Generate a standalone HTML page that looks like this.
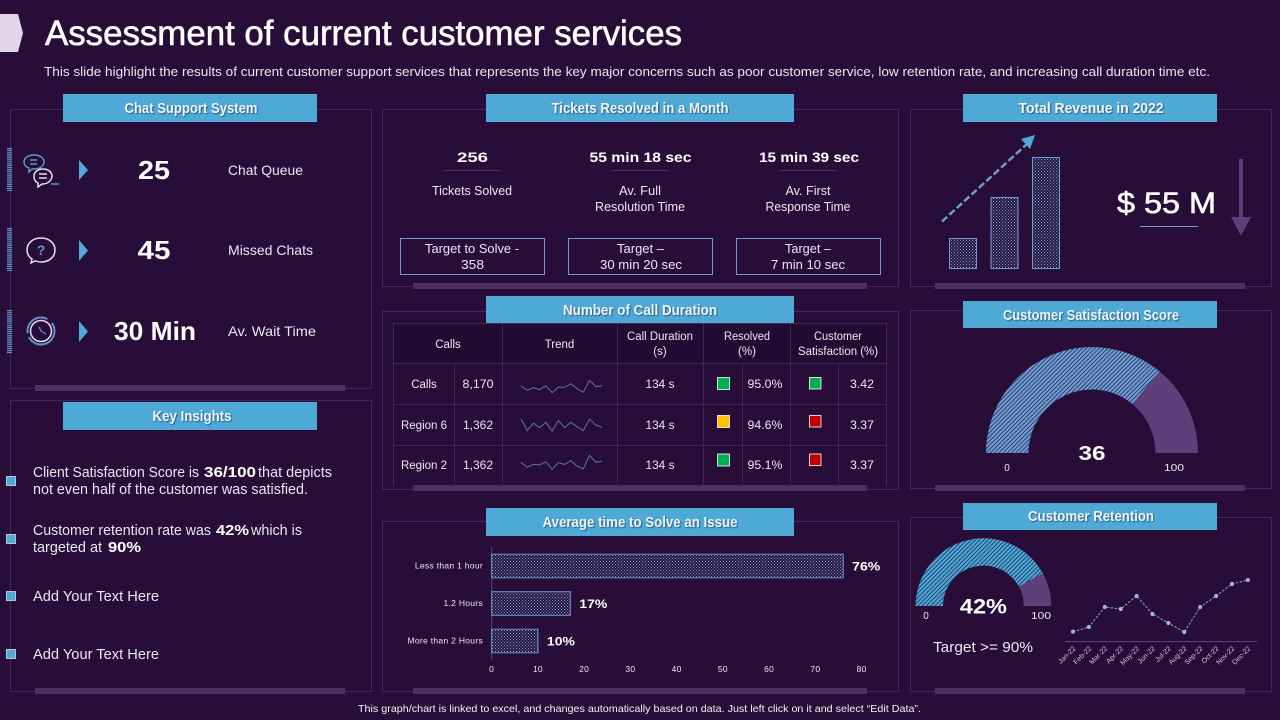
<!DOCTYPE html>
<html lang="en">
<head>
<meta charset="utf-8">
<title>Assessment of current customer services</title>
<style>
html,body{margin:0;padding:0;background:#270d38;width:1280px;height:720px;overflow:hidden}
svg{display:block;font-family:"Liberation Sans",sans-serif}
text{fill:#ece6f2}
.hd{font-weight:700;font-size:14.5px;fill:#eef6fb;text-anchor:middle;filter:drop-shadow(1px 1px .6px rgba(20,30,60,.55))}
.lb{font-size:14px}
.big{font-weight:700;fill:#fff;text-anchor:middle}
.t12{font-size:12.5px;text-anchor:middle}
.tb{font-size:11.5px;text-anchor:middle}
.ins{font-size:14.5px}
.insb{font-size:14.5px;font-weight:700;fill:#fff}
.panel{fill:none;stroke:#40295a;stroke-width:1}
.bar{fill:#4b3060}
.head{fill:#4fa9d6}
.grid{stroke:#3d2853;stroke-width:1}
</style>
</head>
<body>
<svg id="slide" width="1280" height="720" viewBox="0 0 1280 720" xmlns="http://www.w3.org/2000/svg">
<defs>
<pattern id="dots" width="3" height="3" patternUnits="userSpaceOnUse"><rect width="3" height="3" fill="#27103c"/><rect x="0" y="0" width="1" height="1" fill="#7fa6d6"/><rect x="1.5" y="1.5" width="1" height="1" fill="#7fa6d6"/></pattern>
<pattern id="hatchA" width="3" height="3" patternUnits="userSpaceOnUse" patternTransform="rotate(45)"><rect width="3" height="3" fill="#6d9fd2"/><rect width="1" height="3" fill="#34386a"/></pattern>
<pattern id="hatchB" width="3" height="3" patternUnits="userSpaceOnUse" patternTransform="rotate(45)"><rect width="3" height="3" fill="#4fa9d6"/><rect width="1" height="3" fill="#23426f"/></pattern>
</defs>
<rect width="1280" height="720" fill="#270d38"/>

<polygon points="0,14 18,14 23,33 18,52 0,52" fill="#e0d5ea"/>
<text x="45" y="45" font-size="35" stroke="#fff" stroke-width=".6" textLength="637" lengthAdjust="spacingAndGlyphs" style="fill:#fff">Assessment of current customer services</text>
<text x="44" y="76" font-size="13" textLength="1166" lengthAdjust="spacingAndGlyphs">This slide highlight the results of current customer support services that represents the key major concerns such as poor customer service, low retention rate, and increasing call duration time etc.</text>

<!-- panels -->
<g>
<rect class="panel" x="10.5" y="109.5" width="361" height="279"/>
<rect class="panel" x="10.5" y="400.5" width="361" height="291"/>
<rect class="panel" x="382.5" y="109.5" width="516" height="177"/>
<rect class="panel" x="382.5" y="311.5" width="516" height="178"/>
<rect class="panel" x="382.5" y="521.5" width="516" height="170"/>
<rect class="panel" x="910.5" y="109.5" width="361" height="177"/>
<rect class="panel" x="910.5" y="310.5" width="361" height="178"/>
<rect class="panel" x="910.5" y="517.5" width="361" height="174"/>
<rect class="bar" x="35" y="385" width="310" height="6"/>
<rect class="bar" x="35" y="688" width="310" height="6"/>
<rect class="bar" x="413" y="283" width="454" height="6"/>
<rect class="bar" x="413" y="485" width="454" height="6"/>
<rect class="bar" x="413" y="688" width="454" height="6"/>
<rect class="bar" x="935" y="283" width="310" height="6"/>
<rect class="bar" x="935" y="485" width="310" height="6"/>
<rect class="bar" x="935" y="688" width="310" height="6"/>
</g>

<!-- headers -->
<rect class="head" x="63" y="94" width="254" height="28"/>
<text class="hd" x="191" y="113" textLength="133" lengthAdjust="spacingAndGlyphs">Chat Support System</text>
<rect class="head" x="63" y="402" width="254" height="28"/>
<text class="hd" x="192" y="421" textLength="79" lengthAdjust="spacingAndGlyphs">Key Insights</text>
<rect class="head" x="486" y="94" width="308" height="28"/>
<text class="hd" x="640" y="113" textLength="177" lengthAdjust="spacingAndGlyphs">Tickets Resolved in a Month</text>
<rect class="head" x="486" y="296" width="308" height="27"/>
<text class="hd" x="640" y="315" textLength="154" lengthAdjust="spacingAndGlyphs">Number of Call Duration</text>
<rect class="head" x="486" y="508" width="308" height="28"/>
<text class="hd" x="640" y="527" textLength="195" lengthAdjust="spacingAndGlyphs">Average time to Solve an Issue</text>
<rect class="head" x="963" y="94" width="254" height="28"/>
<text class="hd" x="1091" y="113" textLength="145" lengthAdjust="spacingAndGlyphs">Total Revenue in 2022</text>
<rect class="head" x="963" y="301" width="254" height="27"/>
<text class="hd" x="1091" y="320" textLength="176" lengthAdjust="spacingAndGlyphs">Customer Satisfaction Score</text>
<rect class="head" x="963" y="503" width="254" height="27"/>
<text class="hd" x="1091" y="521" textLength="126" lengthAdjust="spacingAndGlyphs">Customer Retention</text>

<!-- chat support -->
<g>
<line x1="9.5" x2="9.5" y1="148" y2="191" stroke="#5f96cc" stroke-width="5" stroke-dasharray="1.2 .9"/>
<line x1="9.5" x2="9.5" y1="228" y2="271" stroke="#5f96cc" stroke-width="5" stroke-dasharray="1.2 .9"/>
<line x1="9.5" x2="9.5" y1="310" y2="353" stroke="#5f96cc" stroke-width="5" stroke-dasharray="1.2 .9"/>
<g fill="none" stroke-width="1.5">
<path d="M24 162c0-4 4-7 10-7s10 3 10 7-4 7-10 7l-2 0-3 3 0-4c-3-1-5-3-5-6z" stroke="#5f96cc"/>
<path d="M30 160h7M30 164h7" stroke="#5f96cc"/>
<path d="M34 176c0-4 4-7 9-7s9 3 9 7-4 8-9 8l-1 0-4 3 0-4c-3-1-4-4-4-7z" stroke="#e6dff0" fill="#270d38"/>
<path d="M39 174h8M39 178h8" stroke="#e6dff0"/>
<path d="M51 184h8" stroke="#5f96cc"/>
</g>
<g fill="none">
<path d="M27 250c0-7 6-12 14-12s14 5 14 12-6 12-14 12c-2 0-3 0-5-1l-1 0-4 2 1-4c-3-2-5-5-5-9z" stroke="#e6dff0" stroke-width="1.5"/>
<text x="41" y="255" font-size="14" font-weight="700" text-anchor="middle" style="fill:#5f96cc">?</text>
</g>
<g fill="none">
<circle cx="41" cy="331" r="13.5" stroke="#5f96cc" stroke-width="2" stroke-dasharray="36 4 30 6"/>
<circle cx="41" cy="331" r="10.5" stroke="#e6dff0" stroke-width="1.5"/>
<path d="M39 327l2 4 5 3" stroke="#5f96cc" stroke-width="1.2"/>
</g>
<polygon points="79,160 88,170 79,180" fill="#4fa9d6"/>
<polygon points="79,240 88,250.5 79,261" fill="#4fa9d6"/>
<polygon points="79,321 88,331.5 79,342" fill="#4fa9d6"/>
<text class="big" x="154" y="179" font-size="26" textLength="32" lengthAdjust="spacingAndGlyphs">25</text>
<text class="big" x="154" y="259" font-size="26" textLength="33" lengthAdjust="spacingAndGlyphs">45</text>
<text class="big" x="155" y="340" font-size="26" textLength="82" lengthAdjust="spacingAndGlyphs">30 Min</text>
<text class="lb" x="228" y="175" textLength="75" lengthAdjust="spacingAndGlyphs">Chat Queue</text>
<text class="lb" x="228" y="255" textLength="85" lengthAdjust="spacingAndGlyphs">Missed Chats</text>
<text class="lb" x="228" y="336" textLength="88" lengthAdjust="spacingAndGlyphs">Av. Wait Time</text>
</g>

<!-- insights -->
<g>
<rect x="6.5" y="476.5" width="9" height="9" fill="#4fa9d6" stroke="#cfe3f0" stroke-width=".8"/>
<rect x="6.5" y="534.5" width="9" height="9" fill="#4fa9d6" stroke="#cfe3f0" stroke-width=".8"/>
<rect x="6.5" y="591.5" width="9" height="9" fill="#4fa9d6" stroke="#cfe3f0" stroke-width=".8"/>
<rect x="6.5" y="649.5" width="9" height="9" fill="#4fa9d6" stroke="#cfe3f0" stroke-width=".8"/>
<text class="ins" x="33" y="477" textLength="166" lengthAdjust="spacingAndGlyphs">Client Satisfaction Score is</text>
<text class="insb" x="204" y="477" textLength="52" lengthAdjust="spacingAndGlyphs">36/100</text>
<text class="ins" x="258" y="477" textLength="74" lengthAdjust="spacingAndGlyphs">that depicts</text>
<text class="ins" x="33" y="494" textLength="275" lengthAdjust="spacingAndGlyphs">not even half of the customer was satisfied.</text>
<text class="ins" x="33" y="535" textLength="178" lengthAdjust="spacingAndGlyphs">Customer retention rate was</text>
<text class="insb" x="216" y="535" textLength="33" lengthAdjust="spacingAndGlyphs">42%</text>
<text class="ins" x="251" y="535" textLength="51" lengthAdjust="spacingAndGlyphs">which is</text>
<text class="ins" x="33" y="552" textLength="69" lengthAdjust="spacingAndGlyphs">targeted at</text>
<text class="insb" x="108" y="552" textLength="33" lengthAdjust="spacingAndGlyphs">90%</text>
<text class="ins" x="33" y="601" textLength="126" lengthAdjust="spacingAndGlyphs">Add Your Text Here</text>
<text class="ins" x="33" y="659" textLength="126" lengthAdjust="spacingAndGlyphs">Add Your Text Here</text>
</g>

<!-- tickets -->
<g>
<text class="big" x="472.5" y="162" font-size="14" textLength="31" lengthAdjust="spacingAndGlyphs">256</text>
<text class="big" x="640.5" y="162" font-size="14" textLength="102" lengthAdjust="spacingAndGlyphs">55 min 18 sec</text>
<text class="big" x="809" y="162" font-size="14" textLength="100" lengthAdjust="spacingAndGlyphs">15 min 39 sec</text>
<line x1="443" x2="501" y1="170.5" y2="170.5" stroke="#4b3060"/>
<line x1="611" x2="669" y1="170.5" y2="170.5" stroke="#4b3060"/>
<line x1="779" x2="837" y1="170.5" y2="170.5" stroke="#4b3060"/>
<text class="t12" x="472" y="195" textLength="80" lengthAdjust="spacingAndGlyphs">Tickets Solved</text>
<text class="t12" x="640" y="195" textLength="42" lengthAdjust="spacingAndGlyphs">Av. Full</text>
<text class="t12" x="640" y="211" textLength="90" lengthAdjust="spacingAndGlyphs">Resolution Time</text>
<text class="t12" x="808" y="195" textLength="45" lengthAdjust="spacingAndGlyphs">Av. First</text>
<text class="t12" x="808" y="211" textLength="85" lengthAdjust="spacingAndGlyphs">Response Time</text>
<rect x="400.5" y="238.5" width="144" height="36" fill="none" stroke="#6f9bd1"/>
<rect x="568.5" y="238.5" width="144" height="36" fill="none" stroke="#6f9bd1"/>
<rect x="736.5" y="238.5" width="144" height="36" fill="none" stroke="#6f9bd1"/>
<text class="t12" x="472" y="253" textLength="94" lengthAdjust="spacingAndGlyphs">Target to Solve -</text>
<text class="t12" x="472.5" y="269" textLength="23" lengthAdjust="spacingAndGlyphs">358</text>
<text class="t12" x="640.5" y="253" textLength="47" lengthAdjust="spacingAndGlyphs">Target –</text>
<text class="t12" x="641" y="269" textLength="82" lengthAdjust="spacingAndGlyphs">30 min 20 sec</text>
<text class="t12" x="808" y="253" textLength="46" lengthAdjust="spacingAndGlyphs">Target –</text>
<text class="t12" x="808" y="269" textLength="74" lengthAdjust="spacingAndGlyphs">7 min 10 sec</text>
</g>

<!-- table -->
<g>
<rect x="393" y="323" width="494" height="41" fill="#220b32"/>
<g class="grid">
<line x1="393" x2="887" y1="323.5" y2="323.5"/>
<line x1="393" x2="887" y1="363.5" y2="363.5"/>
<line x1="393" x2="887" y1="404.5" y2="404.5"/>
<line x1="393" x2="887" y1="445.5" y2="445.5"/>
<line x1="393.5" x2="393.5" y1="323" y2="486"/>
<line x1="454.5" x2="454.5" y1="364" y2="486"/>
<line x1="502.5" x2="502.5" y1="323" y2="486"/>
<line x1="617.5" x2="617.5" y1="323" y2="486"/>
<line x1="703.5" x2="703.5" y1="323" y2="486"/>
<line x1="742.5" x2="742.5" y1="364" y2="486"/>
<line x1="790.5" x2="790.5" y1="323" y2="486"/>
<line x1="838.5" x2="838.5" y1="364" y2="486"/>
<line x1="886.5" x2="886.5" y1="323" y2="486"/>
</g>
<text class="tb" x="448" y="348">Calls</text>
<text class="tb" x="559.5" y="348">Trend</text>
<text class="tb" x="660" y="340" textLength="66" lengthAdjust="spacingAndGlyphs">Call Duration</text>
<text class="tb" x="660" y="355">(s)</text>
<text class="tb" x="747" y="340" textLength="46" lengthAdjust="spacingAndGlyphs">Resolved</text>
<text class="tb" x="747" y="355">(%)</text>
<text class="tb" x="838" y="340" textLength="48" lengthAdjust="spacingAndGlyphs">Customer</text>
<text class="tb" x="838" y="355" textLength="80" lengthAdjust="spacingAndGlyphs">Satisfaction (%)</text>

<text class="tb" x="424" y="388">Calls</text>
<text class="tb" x="478" y="388" textLength="31" lengthAdjust="spacingAndGlyphs">8,170</text>
<text class="tb" x="660" y="388" textLength="29" lengthAdjust="spacingAndGlyphs">134 s</text>
<rect x="717.5" y="377.5" width="12" height="12" fill="#00b050" stroke="#fff" stroke-width=".8"/>
<text class="tb" x="765" y="388" textLength="35" lengthAdjust="spacingAndGlyphs">95.0%</text>
<rect x="809.5" y="377.5" width="11.5" height="11.5" fill="#00b050" stroke="#fff" stroke-width=".8"/>
<text class="tb" x="862" y="388" textLength="24" lengthAdjust="spacingAndGlyphs">3.42</text>

<text class="tb" x="424" y="429" textLength="46" lengthAdjust="spacingAndGlyphs">Region 6</text>
<text class="tb" x="478" y="429" textLength="30" lengthAdjust="spacingAndGlyphs">1,362</text>
<text class="tb" x="660" y="429" textLength="29" lengthAdjust="spacingAndGlyphs">134 s</text>
<rect x="717.5" y="415.5" width="12" height="12" fill="#ffc000" stroke="#fff" stroke-width=".8"/>
<text class="tb" x="765" y="429" textLength="35" lengthAdjust="spacingAndGlyphs">94.6%</text>
<rect x="809.5" y="415.5" width="11.5" height="11.5" fill="#c00000" stroke="#fff" stroke-width=".8"/>
<text class="tb" x="862" y="429" textLength="24" lengthAdjust="spacingAndGlyphs">3.37</text>

<text class="tb" x="424" y="469" textLength="46" lengthAdjust="spacingAndGlyphs">Region 2</text>
<text class="tb" x="478" y="469" textLength="30" lengthAdjust="spacingAndGlyphs">1,362</text>
<text class="tb" x="660" y="469" textLength="29" lengthAdjust="spacingAndGlyphs">134 s</text>
<rect x="717.5" y="454" width="12" height="12" fill="#00b050" stroke="#fff" stroke-width=".8"/>
<text class="tb" x="765" y="469" textLength="35" lengthAdjust="spacingAndGlyphs">95.1%</text>
<rect x="809.5" y="454" width="11.5" height="11.5" fill="#c00000" stroke="#fff" stroke-width=".8"/>
<text class="tb" x="862" y="469" textLength="24" lengthAdjust="spacingAndGlyphs">3.37</text>
<g id="sparklines"></g>
</g>

<!-- script-drawn charts -->
<g id="barChart"></g>

<g>
<g id="revenueBars"></g>
<line x1="942" y1="221.5" x2="1027" y2="144" stroke="#6ea3cf" stroke-width="2.4" stroke-dasharray="7 3"/>
<polygon points="1035,135 1030,149 1021,139" fill="#4fa9d6"/>
<text x="1117" y="213" font-size="30" textLength="99" lengthAdjust="spacingAndGlyphs" style="fill:#fff;font-weight:400" stroke="#fff" stroke-width=".6">$ 55 M</text>
<line x1="1140" x2="1198" y1="226.5" y2="226.5" stroke="#6f9fd0"/>
<rect x="1239" y="159" width="4" height="58" fill="#5b3d7a"/>
<polygon points="1231,217 1251,217 1241,236" fill="#5b3d7a"/>
</g>

<g id="satGauge"></g>
<text x="1007" y="471" font-size="10" text-anchor="middle">0</text>
<text x="1174" y="471" font-size="10" text-anchor="middle" textLength="20" lengthAdjust="spacingAndGlyphs">100</text>

<g id="retGauge"></g>
<text x="926" y="619" font-size="10" text-anchor="middle">0</text>
<text x="1041" y="619" font-size="10" text-anchor="middle" textLength="20" lengthAdjust="spacingAndGlyphs">100</text>
<text x="933" y="652" font-size="15" textLength="100" lengthAdjust="spacingAndGlyphs">Target &gt;= 90%</text>
<g id="retLine"></g>

<text x="358" y="712" font-size="10.5" textLength="563" lengthAdjust="spacingAndGlyphs" style="fill:#f2f2f2">This graph/chart is linked to excel, and changes automatically based on data. Just left click on it and select “Edit Data”.</text>

<script>
const barCategories = ['Less than 1 hour', '1.2 Hours', 'More than 2 Hours'];
const barValues = [76, 17, 10];
const barTicks = [0, 10, 20, 30, 40, 50, 60, 70, 80];
const sparkCalls = [9, 4.7, 7.3, 5.3, 9.3, 2.3, 8, 7.7, 11.3, 6.3, 2.7, 14.7, 8.3, 9.3];
const sparkRegion6 = [16, 4.7, 11.7, 7.3, 12.7, 4, 14.3, 7.3, 12.7, 8.3, 4.3, 15.7, 10, 7.7];
const sparkRegion2 = [12.7, 7.7, 10.7, 10, 13.3, 5.7, 12.3, 10.7, 14.3, 9, 6, 19.7, 12.7, 13.7];
const revenueValues = [30, 71, 111];
const satisfactionSlices = [36, 14];
const retentionSlices = [42, 8];
const retentionMonths = ['Jan-22', 'Feb-22', 'Mar-22', 'Apr-22', 'May-22', 'Jun-22', 'Jul-22', 'Aug-22', 'Sep-22', 'Oct-22', 'Nov-22', 'Dec-22'];
const retentionValues = [9.3, 14, 34, 32, 45, 27, 18, 9, 34, 45, 57, 61];

const NS = 'http://www.w3.org/2000/svg';
function make(tag, parent, attrs) {
  const n = document.createElementNS(NS, tag);
  for (const k in attrs) n.setAttribute(k, attrs[k]);
  parent.appendChild(n);
  return n;
}

/* horizontal bar chart */
const barRoot = document.getElementById('barChart');
const barX = v => 491.7 + v * 4.625;
const barY = i => 566 + i * 37.5;
const barAxis = make('line', barRoot, {x1: 491.7, x2: 491.7, y1: 547, y2: 660, stroke: '#5a4570'});


barValues.forEach((v, i) => {
  const r = make('rect', barRoot, {x: barX(0), y: barY(i) - 11.8, width: barX(v) - barX(0), height: 23.6, fill: 'url(#dots)', stroke: '#6f9bd1', 'stroke-width': 1});
  
  
  const c = make('text', barRoot, {x: 483, y: barY(i) + 2.5, 'font-size': 8.5, 'text-anchor': 'end', 'letter-spacing': '.3'});
  c.textContent = barCategories[i];
  
  
  const l = make('text', barRoot, {x: barX(v) + 9, y: barY(i) + 4.5, 'font-size': 12, 'font-weight': 700, textLength: 28, lengthAdjust: 'spacingAndGlyphs', style: 'fill:#fff'});
  l.textContent = v + '%';
  
  
});
barTicks.forEach(t => {
  const x = make('text', barRoot, {x: barX(t), y: 672, 'font-size': 8.5, 'text-anchor': 'middle', 'letter-spacing': '.3'});
  x.textContent = t;
  
  
});

/* sparklines */
const sparkRoot = document.getElementById('sparklines');
const sparkX = i => 521 + i * 6.23;
[[sparkCalls, 395], [sparkRegion6, 435], [sparkRegion2, 475]].forEach(pair => {
  const pts = pair[0].map((v, i) => sparkX(i).toFixed(1) + ',' + (pair[1] - v).toFixed(1)).join(' ');
  const p = make('polyline', sparkRoot, {points: pts, fill: 'none', stroke: '#5c74ab', 'stroke-width': 1});
  
  
});

/* revenue bars */
const revRoot = document.getElementById('revenueBars');
const revX = i => 949.5 + i * 41.5;
revenueValues.forEach((v, i) => {
  const r = make('rect', revRoot, {x: revX(i), y: 268.5 - v, width: 27, height: v, fill: 'url(#dots)', stroke: '#6f9bd1', 'stroke-width': 1});
  
  
});

/* gauges */
function arcPath(cx, cy, r0, r1, a, b) {
  const pt = (r, f) => {
    const t = Math.PI * (1 - f);
    return (cx + r * Math.cos(t)).toFixed(2) + ' ' + (cy - r * Math.sin(t)).toFixed(2);
  };
  return 'M' + pt(r1, a) + 'A' + r1 + ' ' + r1 + ' 0 0 1 ' + pt(r1, b) + 'L' + pt(r0, b) + 'A' + r0 + ' ' + r0 + ' 0 0 0 ' + pt(r0, a) + 'Z';
}
function drawGauge(root, slices, cx, cy, r0, r1, fill, suffix, size, labelWidth) {
  const total = slices[0] + slices[1];
  const share = slices[0] / total;
  const a = make('path', root, {d: arcPath(cx, cy, r0, r1, 0, share), fill: fill});
  
  
  const b = make('path', root, {d: arcPath(cx, cy, r0, r1, share, 1), fill: '#5e3f7c'});
  
  
  const t = make('text', root, {x: cx, y: cy + size * 0.36, 'font-size': size, 'font-weight': 700, 'text-anchor': 'middle', textLength: labelWidth, lengthAdjust: 'spacingAndGlyphs', style: 'fill:#fff'});
  t.textContent = slices[0] + suffix;
  
  
}
drawGauge(document.getElementById('satGauge'), satisfactionSlices, 1092, 453, 63.5, 106, 'url(#hatchA)', '', 20, 27);
drawGauge(document.getElementById('retGauge'), retentionSlices, 983.4, 606, 40.4, 67.8, 'url(#hatchB)', '%', 21, 47);

/* retention line */
const lineRoot = document.getElementById('retLine');
const lineX = i => 1073 + i * 15.9;
const lineY = v => 641 - v;
const baseLine = make('line', lineRoot, {x1: 1065, x2: 1257, y1: 641.5, y2: 641.5, stroke: '#5e3f7c'});


const linePts = retentionValues.map((v, i) => lineX(i).toFixed(1) + ',' + lineY(v).toFixed(1)).join(' ');
const retPath = make('polyline', lineRoot, {points: linePts, fill: 'none', stroke: '#8da6d0', 'stroke-width': 1, 'stroke-dasharray': '2.5 1.5'});


retentionValues.forEach((v, i) => {
  const d = make('circle', lineRoot, {cx: lineX(i), cy: lineY(v), r: 2.1, fill: '#9db4dc'});
  
  
  const px = lineX(i) + 3;
  const t = make('text', lineRoot, {x: px, y: 649, 'font-size': 7, 'text-anchor': 'end', transform: 'rotate(-45 ' + px + ' 649)', style: 'fill:#cfc3de'});
  t.textContent = retentionMonths[i];
  
  
});
</script>
</svg>
</body>
</html>
